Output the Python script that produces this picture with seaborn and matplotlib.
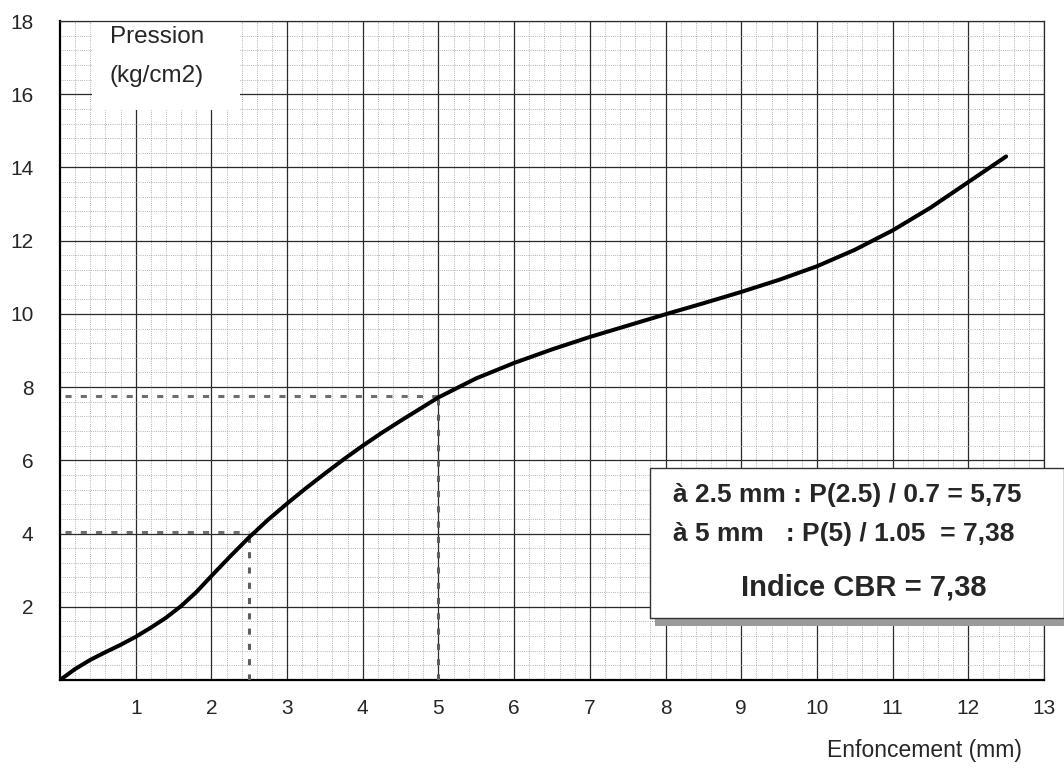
import numpy as np
import pandas as pd
import matplotlib.pyplot as plt
import seaborn as sns
from matplotlib.patches import Rectangle

# courbe pression / enfoncement
enfoncement = [0, 0.2, 0.4, 0.6, 0.8, 1.0, 1.2, 1.4, 1.6, 1.8, 2.0, 2.25, 2.5, 2.75, 3.0,
               3.25, 3.5, 3.75, 4.0, 4.25, 4.5, 4.75, 5.0, 5.5, 6.0, 6.5, 7.0, 7.5, 8.0,
               8.5, 9.0, 9.5, 10.0, 10.5, 11.0, 11.5, 12.0, 12.5]
pression = [0, 0.3, 0.55, 0.76, 0.96, 1.18, 1.43, 1.70, 2.02, 2.40, 2.84, 3.38, 3.9, 4.38, 4.82,
            5.24, 5.64, 6.03, 6.4, 6.75, 7.08, 7.4, 7.72, 8.24, 8.66, 9.03, 9.37, 9.68, 9.99,
            10.29, 10.6, 10.93, 11.3, 11.75, 12.28, 12.9, 13.6, 14.3]

# points de lecture CBR
lecture_x = [2.5, 5]
lecture_p = [4.03, 7.75]

x_ticks = list(range(1, 14))
y_ticks = list(range(2, 19, 2))

texte_cbr = ["à 2.5 mm : P(2.5) / 0.7 = 5,75",
             "à 5 mm   : P(5) / 1.05  = 7,38",
             "Indice CBR = 7,38"]

sns.set_style("white")
plt.rcParams['font.family'] = ['Liberation Sans', 'DejaVu Sans']

fig = plt.figure(figsize=(10.64, 7.69), dpi=100)
W, H = 1064, 769
x0, x13 = 60, 1044
y0, y18 = 680, 21
ax = fig.add_axes([x0 / W, (H - y0) / H, (x13 - x0) / W, (y0 - y18) / H])

ax.set_xlim(0, 13)
ax.set_ylim(0, 18)

# quadrillage papier millimetre
ax.set_xticks(x_ticks)
ax.set_yticks(y_ticks)
ax.set_xticks(np.arange(0, 13.01, 0.2), minor=True)
ax.set_yticks(np.arange(0, 18.01, 0.4), minor=True)
ax.grid(which='major', color='#2a2a2a', lw=0.9, ls='-')
ax.grid(which='minor', color='#9a9a9a', lw=0.6, ls=(0, (1, 1.6)))
ax.set_axisbelow(True)

for side in ['top', 'right']:
    ax.spines[side].set_color('#2a2a2a')
    ax.spines[side].set_linewidth(0.9)
for side in ['left', 'bottom']:
    ax.spines[side].set_color('black')
    ax.spines[side].set_linewidth(1.6)

ax.tick_params(which='major', direction='out', length=5, width=1, color='#2a2a2a',
               labelsize=15)
ax.tick_params(axis='x', pad=9)
ax.tick_params(axis='y', pad=14)
ax.tick_params(which='minor', length=0)

# cache blanc sous le titre de l'axe
ax.add_patch(Rectangle((0.42, 15.57), 1.96, 2.6, facecolor='white', edgecolor='none',
                       zorder=2, clip_on=False))
ax.text(0.66, 17.55, "Pression", fontsize=17.5, va='center', ha='left', zorder=3)
ax.text(0.66, 16.5, "(kg/cm2)", fontsize=17.5, va='center', ha='left', zorder=3)

# lignes de lecture
for lx, lp in zip(lecture_x, lecture_p):
    ax.plot([0.07, lx], [lp, lp], color='#6e6e6e', lw=2.2, ls=(0, (2, 3)), zorder=3)
    ax.plot([lx, lx], [0, lp], color='#5e5e5e', lw=2.2, ls=(0, (2, 3)), zorder=3)

df = pd.DataFrame({'Enfoncement': enfoncement, 'Pression': pression})
sns.lineplot(data=df, x='Enfoncement', y='Pression', ax=ax, color='black', lw=2.9,
             zorder=4, errorbar=None)
ax.set_xlabel('')
ax.set_ylabel('')

# cadre resultat
bx0, bx1, by0, by1 = 650, 1064, 468, 618
fig.patches.append(Rectangle((655 / W, (H - 626) / H), (W - 655) / W, 8 / H,
                             transform=fig.transFigure, facecolor='#9a9a9a',
                             edgecolor='none', zorder=5))
fig.patches.append(Rectangle((bx0 / W, (H - by1) / H), (bx1 - bx0) / W, (by1 - by0) / H,
                             transform=fig.transFigure, facecolor='white',
                             edgecolor='#333333', lw=1, zorder=6))
fig.text(673 / W, (H - 495) / H, texte_cbr[0], fontsize=19, fontweight='bold',
         va='center', ha='left', zorder=7)
fig.text(673 / W, (H - 534) / H, texte_cbr[1], fontsize=19, fontweight='bold',
         va='center', ha='left', zorder=7)
fig.text(864 / W, (H - 588) / H, texte_cbr[2], fontsize=21, fontweight='bold',
         va='center', ha='center', zorder=7)

fig.text(1022 / W, (H - 750) / H, "Enfoncement (mm)", fontsize=16.5, ha='right', va='center')

fig.savefig('out.png', dpi=100)
